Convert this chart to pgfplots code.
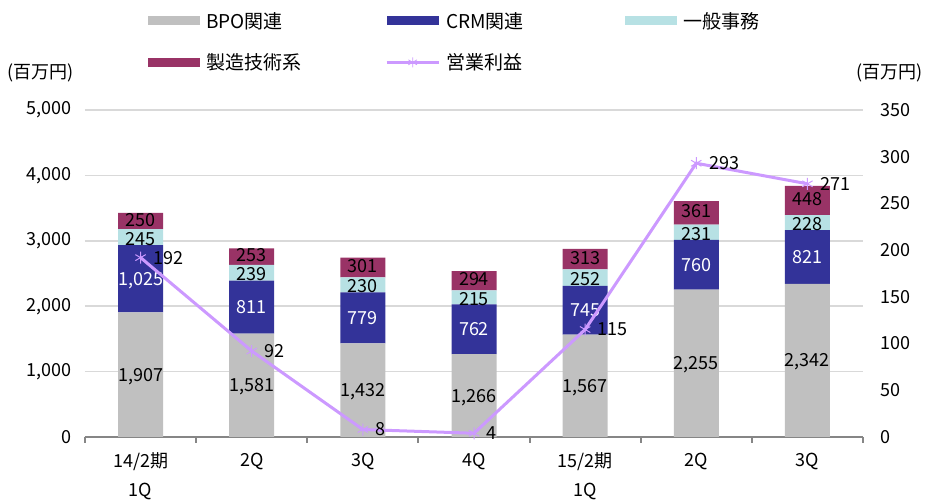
\documentclass[border=0pt]{standalone}
\usepackage{pgfplots}
\pgfplotsset{compat=1.18}
\usepackage{pgfplotstable}
\usepackage{fontspec}
\setmainfont{Noto Sans CJK JP}
\definecolor{bpo}{HTML}{C0C0C0}
\definecolor{crm}{HTML}{333399}
\definecolor{gen}{HTML}{B7E1E4}
\definecolor{mfg}{HTML}{993366}
\definecolor{opc}{HTML}{CC99FF}
\definecolor{gridc}{HTML}{D9D9D9}
\definecolor{axc}{HTML}{868686}
\pgfplotsset{/pgf/number format/.cd, 1000 sep={,}, assume math mode=true}
\pgfplotstableread{
x bpo crm gen mfg op
0 1907 1025 245 250 192
1 1581 811 239 253 92
2 1432 779 230 301 8
3 1266 762 215 294 4
4 1567 745 252 313 115
5 2255 760 231 361 293
6 2342 821 228 448 271
}\data
\newcommand{\fs}{\fontsize{18}{29}\selectfont}
\newcommand{\legtext}[1]{\makebox[185pt][l]{\hspace{6pt}#1}}
\pgfplotsset{
  common/.style={
    at={(85pt,63pt)}, anchor=south west,
    scale only axis, width=778pt, height=327pt,
    xmin=-0.5, xmax=6.5, enlargelimits=false,
  },
  barleg/.style={legend image code/.code={\fill[##1,draw=none] (0pt,-4.5pt) rectangle (52pt,4.5pt);}},
  opleg/.style={legend image code/.code={\draw[##1,mark=none] (0pt,0pt) -- (52pt,0pt); \draw[##1] plot[only marks] coordinates {(26pt,0pt)};}},
}
\begin{document}
\begin{tikzpicture}[x=1pt,y=1pt]
\path[use as bounding box] (0,0) rectangle (940,500);
\begin{axis}[common,
  ybar stacked, bar width=45pt,
  ymin=0, ymax=5000, ytick={0,1000,...,5000}, scaled y ticks=false,
  axis x line*=bottom, axis y line*=left,
  y axis line style={draw=none},
  x axis line style={draw=axc, line width=2pt, -},
  ytick style={draw=none},
  xtick={0,...,6},
  xticklabels={{14/2期\\1Q},2Q,3Q,4Q,{15/2期\\1Q},2Q,3Q},
  xtick style={draw=none},
  minor xtick={-0.5,0.5,...,6.5},
  minor x tick style={draw=axc, line width=2pt},
  minor tick length=6pt, tick align=outside,
  ymajorgrids, grid style={gridc, line width=1.5pt},
  xticklabel style={align=center, font=\fs, yshift=-8pt},
  yticklabel style={font=\fs, xshift=-6pt},
  legend columns=3,
  legend style={at={(rel axis cs:0.081,1.30)}, anchor=north west, draw=none, fill=none,
    inner sep=0pt, row sep=24pt, column sep=0pt, font=\fontsize{19}{22}\selectfont,
    nodes={inner sep=0pt}},
  legend cell align=left,
]
\addplot[fill=bpo, draw=none, barleg] table[x=x,y=bpo]{\data};
\addlegendentry{\legtext{BPO関連}}
\addplot[fill=crm, draw=none, barleg] table[x=x,y=crm]{\data};
\addlegendentry{\legtext{CRM関連}}
\addplot[fill=gen, draw=none, barleg] table[x=x,y=gen]{\data};
\addlegendentry{\legtext{一般事務}}
\addplot[fill=mfg, draw=none, barleg] table[x=x,y=mfg]{\data};
\addlegendentry{\legtext{製造技術系}}
\addlegendimage{opc, line width=3pt, mark=asterisk, mark options={line width=0.8pt, mark size=5pt}, opleg}
\addlegendentry{\legtext{営業利益}}
\end{axis}
% bar labels
\begin{axis}[common, hide axis, ymin=0, ymax=5000,
  nodes near coords, nodes near coords align=center, point meta=explicit,
  every node near coord/.append style={anchor=center, font=\fs, inner sep=0pt, text height=13pt, text depth=0pt}]
\addplot[draw=none, mark=none] table[x=x, y expr=\thisrow{bpo}/2, meta=bpo]{\data};
\addplot[draw=none, mark=none, every node near coord/.append style={text=white}] table[x=x, y expr=\thisrow{bpo}+\thisrow{crm}/2, meta=crm]{\data};
\addplot[draw=none, mark=none, every node near coord/.append style={yshift=-1.5pt}] table[x=x, y expr=\thisrow{bpo}+\thisrow{crm}+\thisrow{gen}/2, meta=gen]{\data};
\addplot[draw=none, mark=none, every node near coord/.append style={yshift=1.5pt}] table[x=x, y expr=\thisrow{bpo}+\thisrow{crm}+\thisrow{gen}+\thisrow{mfg}/2, meta=mfg]{\data};
\end{axis}
% operating profit
\begin{axis}[common,
  ymin=0, ymax=350, ytick={0,50,...,350},
  axis x line=none, axis y line*=right,
  y axis line style={draw=none}, ytick style={draw=none},
  yticklabel style={font=\fs, xshift=14pt},
]
\addplot[opc, line width=3pt, mark=asterisk, mark options={line width=1pt, mark size=6pt},
  nodes near coords, every node near coord/.append style={anchor=west, xshift=9pt, font=\fs, text=black}]
  table[x=x,y=op]{\data};
\end{axis}
\node[anchor=west, font=\fs] at (4,427) {(百万円)};
\node[anchor=east, font=\fs] at (926,427) {(百万円)};
\end{tikzpicture}
\end{document}
